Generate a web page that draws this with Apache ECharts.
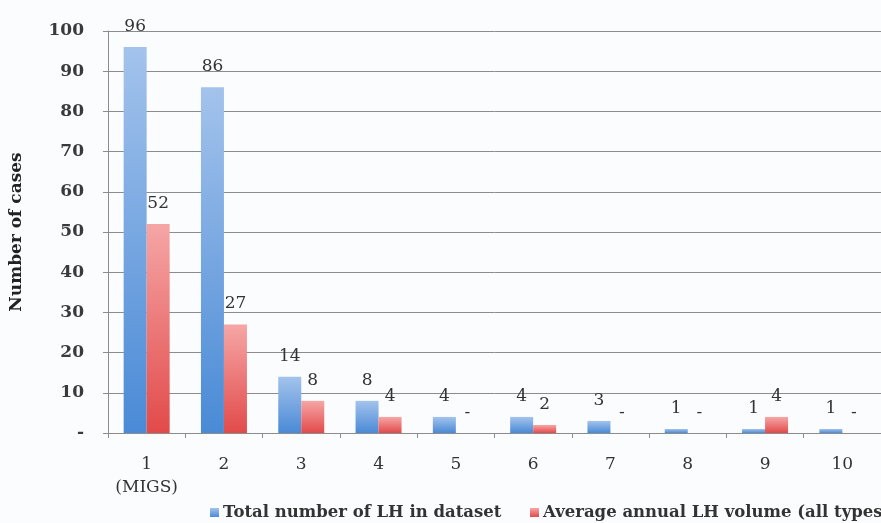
<!DOCTYPE html>
<html>
<head>
<meta charset="utf-8">
<script src="https://cdn.jsdelivr.net/npm/echarts@6/dist/echarts.min.js"></script>
<style>
  html, body { margin: 0; padding: 0; background: #fbfcfd; }
  #chart { width: 881px; height: 523px; }
</style>
</head>
<body>
<div id="chart"></div>
<script>
// Categories along the x axis
const categories = ['1\n(MIGS)', '2', '3', '4', '5', '6', '7', '8', '9', '10'];
// Series names
const seriesNames = ['Total number of LH in dataset', 'Average annual LH volume (all types)'];
// Series values (0 = no cases, labelled "-")
const totalLH = [96, 86, 14, 8, 4, 4, 3, 1, 1, 1];
const annualLH = [52, 27, 8, 4, 0, 2, 0, 0, 4, 0];

const FONT = 'DejaVu Serif';

const chart = echarts.init(document.getElementById('chart'));

function grad(top, bottom) {
  return new echarts.graphic.LinearGradient(0, 0, 0, 1, [
    { offset: 0, color: top },
    { offset: 1, color: bottom }
  ]);
}

const valueLabel = {
  show: true,
  position: 'top',
  distance: 12,
  fontFamily: FONT,
  fontSize: 17,
  color: '#333',
  formatter: p => (p.value === 0 ? '-' : String(p.value))
};

const legendText = { fontFamily: FONT, fontSize: 16.5, fontWeight: 'bold', color: '#333', padding: [0, 0, 0, -1] };

chart.setOption({
  backgroundColor: '#fbfcfd',
  animation: false,
  grid: { left: 101, top: 31, height: 402, width: 790 },
  legend: [
    {
      left: 205, top: 499, itemWidth: 9, itemHeight: 9, icon: 'rect',
      textStyle: legendText, data: [seriesNames[0]]
    },
    {
      left: 525, top: 499, itemWidth: 9, itemHeight: 9, icon: 'rect',
      width: 1000,
      textStyle: legendText, data: [seriesNames[1]]
    }
  ],
  xAxis: {
    type: 'category',
    data: categories,
    axisLine: { lineStyle: { color: '#8c8c8c', width: 1 } },
    axisTick: { show: true, length: 5, lineStyle: { color: '#8c8c8c' } },
    axisLabel: { interval: 0, fontFamily: FONT, fontSize: 17, color: '#333', margin: 20, lineHeight: 23 }
  },
  yAxis: {
    type: 'value',
    min: 0,
    max: 100,
    interval: 10,
    name: 'Number of cases',
    nameLocation: 'middle',
    nameGap: 83,
    nameTextStyle: { fontFamily: FONT, fontSize: 17, fontWeight: 'bold', color: '#222' },
    axisLine: { show: true, lineStyle: { color: '#8c8c8c' } },
    axisTick: { show: true, length: 5, lineStyle: { color: '#8c8c8c' } },
    splitLine: { lineStyle: { color: '#8c8c8c', width: 1 } },
    axisLabel: {
      fontFamily: FONT, fontSize: 17, fontWeight: 'bold', color: '#3a3a3a', margin: 24,
      formatter: v => (v === 0 ? '-' : String(v))
    }
  },
  series: [
    {
      name: seriesNames[0],
      type: 'bar',
      data: totalLH,
      barWidth: 23,
      barGap: '0%',
      itemStyle: { color: grad('#a3c3ec', '#4a8ad6') },
      label: valueLabel
    },
    {
      name: seriesNames[1],
      type: 'bar',
      data: annualLH,
      barWidth: 23,
      itemStyle: { color: grad('#f6a6a6', '#e24a4a') },
      label: valueLabel
    }
  ]
});
</script>
</body>
</html>
